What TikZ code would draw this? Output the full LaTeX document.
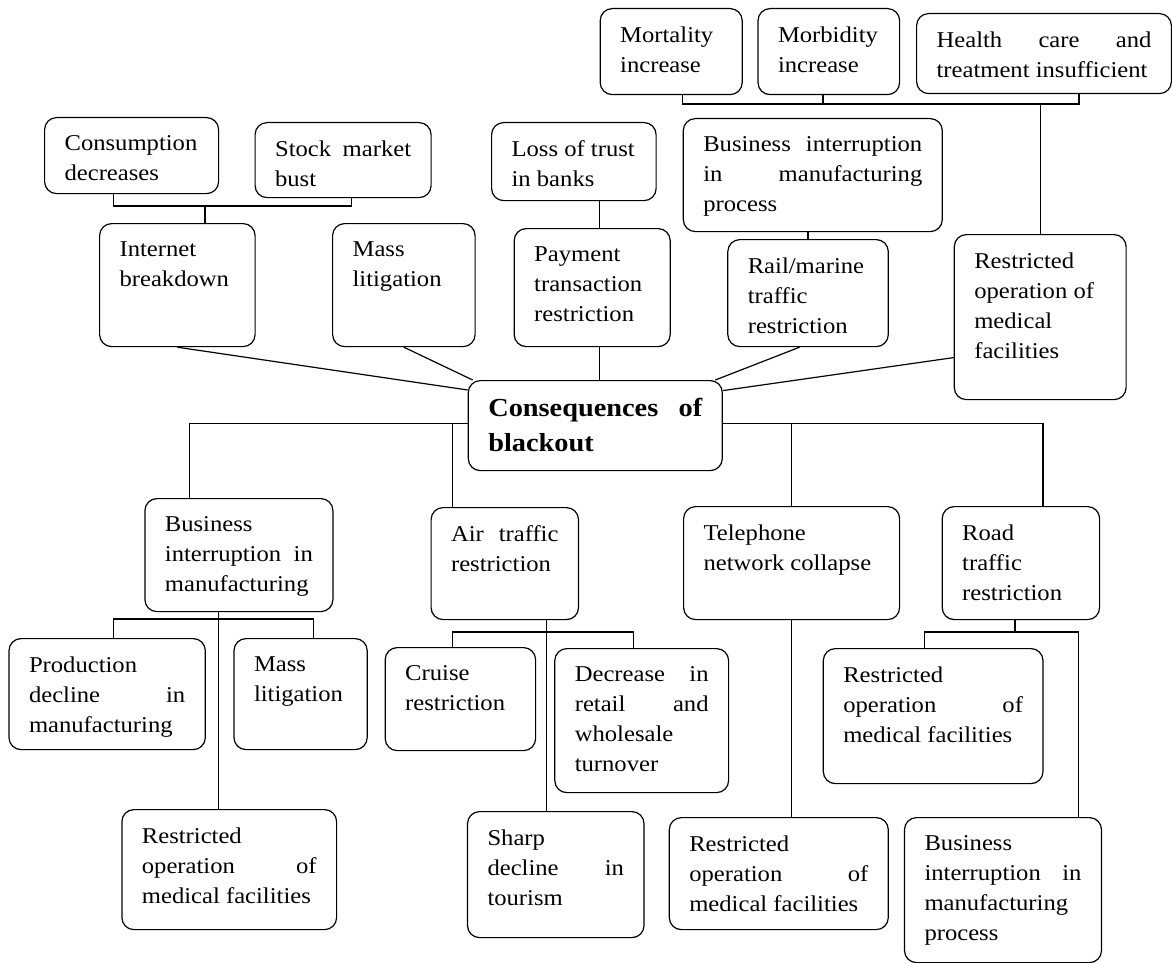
\documentclass[tikz,border=0pt]{standalone}
\usepackage{fontspec}
\setmainfont{Liberation Serif}[FakeStretch=1.09]
\usepackage{tikz}

\newdimen\pxu \pxu=0.5pt
% box body: width, height (in px), text
\newcommand{\boxtext}[3]{\parbox[t][\dimexpr#2\pxu-36\pxu\relax][t]{\dimexpr#1\pxu-40\pxu\relax}{#3}}
\pretolerance=10000
\hyphenpenalty=10000

\begin{document}
\begin{tikzpicture}[
  x=0.5pt, y=-0.5pt,
  blk/.style={draw, rectangle, rounded corners=6pt, line width=0.6pt, anchor=north west,
    inner xsep=10pt, inner ysep=9pt, font=\fontsize{11.3pt}{15pt}\selectfont},
  hub/.style={blk, font=\fontsize{13pt}{17.5pt}\selectfont\bfseries},
  link/.style={line width=0.6pt},
]
  \useasboundingbox (0,0) rectangle (1172,963);

  % top rows
  \node[blk] (cons)  at (44,117)    {\boxtext{174}{76}{Consumption\\decreases}};
  \node[blk] (stock) at (254.5,122) {\boxtext{176}{75}{Stock~market\linebreak bust}};
  \node[blk] (trust) at (491,122)   {\boxtext{164.5}{78}{Loss~of~trust\\in~banks}};
  \node[blk] (mort)  at (599.6,8)   {\boxtext{142}{86}{Mortality\\increase}};
  \node[blk] (morb)  at (757.4,8)   {\boxtext{141.6}{86}{Morbidity\\increase}};
  \node[blk] (hcare) at (916,13)    {\boxtext{254.8}{80}{Health~care~and\linebreak treatment~insufficient}};
  \node[blk] (bimp)  at (682.7,118) {\boxtext{259}{113}{Business~interruption\linebreak in~manufacturing\linebreak process}};

  \node[blk] (inet) at (99,223)     {\boxtext{155.5}{123}{Internet\\breakdown}};
  \node[blk] (mlit) at (332,223)    {\boxtext{142.5}{123}{Mass\\litigation}};
  \node[blk] (pay)  at (513.6,228)  {\boxtext{156}{118}{Payment\\transaction\\restriction}};
  \node[blk] (rail) at (727.2,239)  {\boxtext{160.5}{107}{Rail/marine\\traffic\\restriction}};
  \node[blk] (rmed) at (953.7,234)  {\boxtext{171.8}{165}{Restricted\\operation~of\\medical\\facilities}};

  \node[hub] (center) at (467.7,380) {\boxtext{254}{90}{Consequences~of\linebreak blackout}};

  % lower rows
  \node[blk] (bman) at (144.3,498)  {\boxtext{188}{113}{Business\\interruption~in\linebreak manufacturing}};
  \node[blk] (air)  at (430.5,507)  {\boxtext{147.4}{112}{Air~traffic\linebreak restriction}};
  \node[blk] (tel)  at (683,506)    {\boxtext{216}{113}{Telephone\\network~collapse}};
  \node[blk] (road) at (941.6,506)  {\boxtext{157.4}{113}{Road\\traffic\\restriction}};

  \node[blk] (prod)   at (8.4,638)   {\boxtext{196.3}{111}{Production\\decline~in\linebreak manufacturing}};
  \node[blk] (mlit2)  at (233.4,638) {\boxtext{133.2}{111}{Mass\\litigation}};
  \node[blk] (cruise) at (384.6,647) {\boxtext{150.4}{103}{Cruise\\restriction}};
  \node[blk] (retail) at (554.2,648) {\boxtext{173.8}{144}{Decrease~in\linebreak retail~and\linebreak wholesale\\turnover}};
  \node[blk] (rmed2)  at (822.7,648) {\boxtext{219.7}{135}{Restricted\\operation~of\linebreak medical~facilities}};

  \node[blk] (rmed3) at (121.3,809) {\boxtext{214.7}{120}{Restricted\\operation~of\linebreak medical~facilities}};
  \node[blk] (tour)  at (466.9,811) {\boxtext{176.5}{126}{Sharp\\decline~in\linebreak tourism}};
  \node[blk] (rmed4) at (668.7,817) {\boxtext{219}{112}{Restricted\\operation~of\linebreak medical~facilities}};
  \node[blk] (bproc) at (903.9,817) {\boxtext{197}{145}{Business\\interruption~in\linebreak manufacturing\\process}};

  % economy branch
  \coordinate (j1) at (205,206);
  \draw[link] ([xshift=-9pt]cons.south) |- (j1) -| ([xshift=4.25pt]stock.south);
  \draw[link] (j1) -- (j1 |- inet.north);

  % banks
  \coordinate (tp) at (599.6,0);
  \draw[link] (trust.south -| tp) -- (pay.north -| tp);
  \draw[link] (pay.south -| tp) -- (center.north -| tp);

  % health branch
  \coordinate (hb) at (682.7,104);
  \draw[link] (hb |- mort.south) -- (hb) -| ([xshift=17.5pt]hcare.south);
  \draw[link] ([xshift=-2.9pt]morb.south) -- ([xshift=-2.9pt]morb.south |- hb);
  \draw[link] (rmed.north) -- (rmed.north |- hb);
  \draw[link] (rail.north |- bimp.south) -- (rail.north);

  % spokes into the hub
  \draw[link] (inet.south) -- ([yshift=-5pt]center.north west);
  \draw[link] (mlit.south) -- ([xshift=2.5pt]center.north west);
  \draw[link] ([xshift=-4.25pt]rail.south) -- ([xshift=-3.8pt]center.north east);
  \draw[link] ([yshift=-20.25pt]rmed.west) -- ([yshift=17.5pt]center.east);

  % hub to lower row
  \coordinate (lb) at ([yshift=1pt]center.west);
  \coordinate (rb) at ([yshift=1pt]center.east);
  \draw[link] (lb) -| ([xshift=-24.8pt]bman.north);
  \draw[link] ([xshift=-26.3pt]air.north) -- ([xshift=-26.3pt]air.north |- lb);
  \draw[link] (rb) -| ([xshift=11pt]road.north);
  \draw[link] (tel.north) -- (tel.north |- rb);

  % under manufacturing
  \coordinate (bb) at (218.1,619);
  \draw[link] ([xshift=-10.1pt]bman.south) -- ([xshift=-10.1pt]bman.south |- rmed3.north);
  \draw[link] ([xshift=3.15pt]prod.north) |- (bb) -| ([xshift=6.5pt]mlit2.north);

  % under air traffic
  \coordinate (ab) at (545.5,632);
  \draw[link] ([xshift=20.65pt]air.south) -- ([xshift=20.65pt]air.south |- tour.north);
  \draw[link] ([xshift=-4.1pt]cruise.north) |- (ab) -| ([xshift=-4.1pt]retail.north);

  % under telephone
  \draw[link] (tel.south) -- (tel.south |- rmed4.north);

  % under road traffic
  \coordinate (rd) at (1014.9,632);
  \draw[link] (rd |- road.south) -- (rd);
  \draw[link] ([xshift=-4.5pt]rmed2.north) |- (rd) -| ([xshift=37.9pt]bproc.north);
\end{tikzpicture}
\end{document}
